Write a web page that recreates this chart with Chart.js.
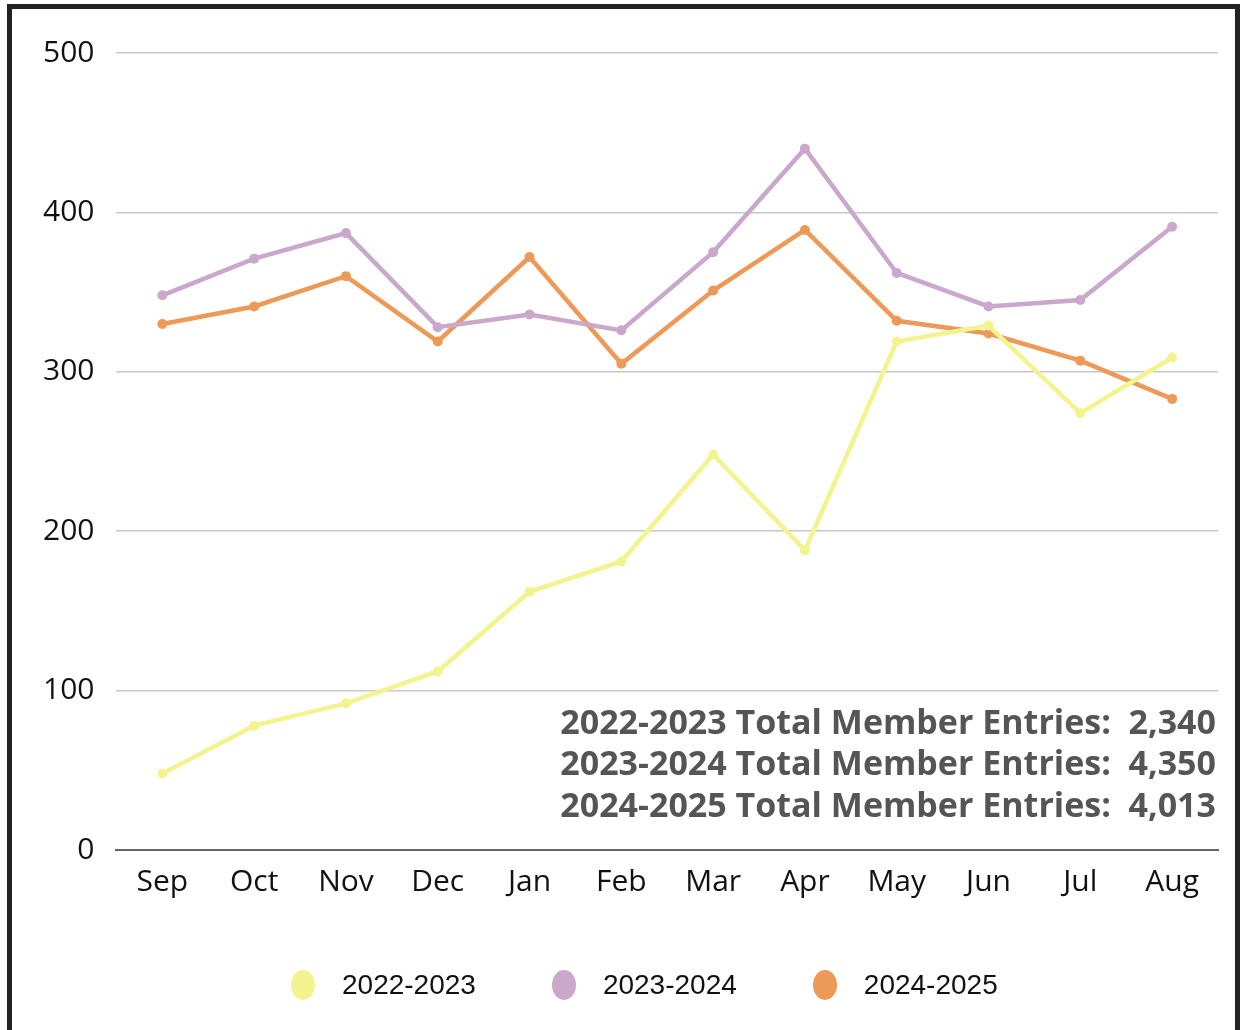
<!DOCTYPE html>
<html>
<head>
<meta charset="utf-8">
<script src="https://cdn.jsdelivr.net/npm/chart.js@4.4.1/dist/chart.umd.min.js"></script>
<style>
  html, body { margin: 0; padding: 0; background: #fff; }
  #wrap { position: relative; width: 1248px; height: 1030px; }
  #frame {
    position: absolute; left: 7px; top: 4px; width: 1233px; height: 1030px;
    border-top: 5px solid #222; border-left: 5px solid #222; border-right: 5px solid #222;
    box-sizing: border-box; pointer-events: none;
  }
  #chart { position: absolute; left: 0; top: 0; }
  #legend {
    position: absolute; left: 291px; top: 966px; height: 38px;
    display: flex; align-items: center;
    font-family: "Liberation Sans", sans-serif; font-size: 28px; color: #111;
  }
  .item { display: flex; align-items: center; margin-right: 76px; }
  .dot { width: 24px; height: 30px; border-radius: 50%; margin-right: 27px; }
</style>
</head>
<body>
<div id="wrap">
  <canvas id="chart" width="1248" height="1030"></canvas>
  <div id="legend"></div>
  <div id="frame"></div>
</div>
<script>
// months of the membership year
const months = ['Sep', 'Oct', 'Nov', 'Dec', 'Jan', 'Feb', 'Mar', 'Apr', 'May', 'Jun', 'Jul', 'Aug'];

// member entries per month
const entries2022 = [48, 78, 92, 112, 162, 181, 248, 188, 319, 329, 274, 309];
const entries2023 = [348, 371, 387, 328, 336, 326, 375, 440, 362, 341, 345, 391];
const entries2024 = [330, 341, 360, 319, 372, 305, 351, 389, 332, 324, 307, 283];

const seasonLabels = ['2022-2023', '2023-2024', '2024-2025'];
const seasonColors = ['#f3f38f', '#c9a8cb', '#ed9a58'];

// totals shown in the corner
const totalLines = [
    '2022-2023 Total Member Entries:  2,340',
    '2023-2024 Total Member Entries:  4,350',
    '2024-2025 Total Member Entries:  4,013'
];

const yTicks = [0, 100, 200, 300, 400, 500];

function makeDataset(label, data, color) {
    return {
        label: label,
        data: data,
        borderColor: color,
        backgroundColor: color,
        borderWidth: 4.5,
        pointRadius: 5,
        pointBackgroundColor: color,
        pointBorderWidth: 0,
        tension: 0,
        fill: false
    };
}

// draws the totals text inside the plot area, bottom right
const totalsPlugin = {
    id: 'totals',
    afterDatasetsDraw(chart) {
        const ctx = chart.ctx;
        const area = chart.chartArea;
        ctx.save();
        ctx.font = 'bold 34px "Open Sans"';
        ctx.fillStyle = '#555555';
        ctx.textAlign = 'right';
        ctx.textBaseline = 'middle';
        totalLines.forEach((line, i) => {
            ctx.fillText(line, area.right - 2, 724 + i * 41.5);
        });
        ctx.restore();
    }
};

const datasets = [
    makeDataset(seasonLabels[0], entries2022, seasonColors[0]),
    makeDataset(seasonLabels[1], entries2023, seasonColors[1]),
    makeDataset(seasonLabels[2], entries2024, seasonColors[2])
];

new Chart(document.getElementById('chart'), {
    type: 'line',
    data: {
        labels: months,
        datasets: datasets
    },
    plugins: [totalsPlugin],
    options: {
        responsive: false,
        animation: false,
        layout: {
            padding: { left: 21, right: 30, top: 53, bottom: 116 }
        },
        scales: {
            x: {
                offset: true,
                grid: { display: false, drawTicks: false },
                border: { display: true, color: '#666666', width: 2 },
                ticks: {
                    color: '#111111',
                    font: { family: '"Open Sans"', size: 30 },
                    padding: 14
                }
            },
            y: {
                min: 0,
                max: 500,
                afterBuildTicks: (axis) => {
                    axis.ticks = yTicks.map(v => ({ value: v }));
                },
                grid: { color: '#c8c8c8', lineWidth: 1.5, drawTicks: false },
                border: { display: false },
                ticks: {
                    color: '#111111',
                    font: { family: '"Open Sans"', size: 30 },
                    padding: 22
                }
            }
        },
        plugins: {
            legend: { display: false },
            tooltip: { enabled: false }
        }
    }
});

// legend row under the chart
const legendBox = document.getElementById('legend');
seasonLabels.forEach((label, i) => {
    const item = document.createElement('div');
    item.className = 'item';
    const dot = document.createElement('span');
    dot.className = 'dot';
    dot.style.background = seasonColors[i];
    const text = document.createElement('span');
    text.textContent = label;
    item.appendChild(dot);
    item.appendChild(text);
    legendBox.appendChild(item);
});
</script>
</body>
</html>
